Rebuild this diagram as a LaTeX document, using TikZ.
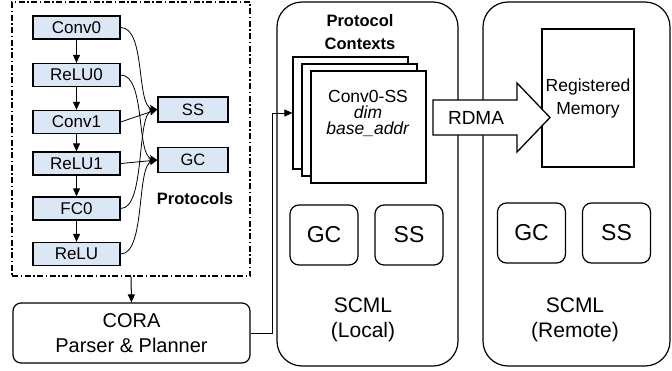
\documentclass[tikz,border=0pt]{standalone}
\usepackage{fontspec}
\setmainfont{Liberation Sans}
\usetikzlibrary{arrows.meta}
\definecolor{nodeblue}{HTML}{DCE7F5}
\begin{document}
\begin{tikzpicture}[x=1pt,y=-1pt,
  layer/.style={draw, line width=1.3pt, fill=nodeblue, minimum width=87pt, minimum height=23pt, inner sep=0pt, font=\fontsize{17}{20}\selectfont},
  proto/.style={draw, line width=1.3pt, fill=nodeblue, minimum width=70pt, minimum height=25pt, inner sep=0pt, font=\fontsize{16.5}{19}\selectfont},
  arr/.style={-{Triangle[length=8pt,width=7pt]}, line width=1pt},
  curv/.style={-{Stealth[length=8pt,width=7pt,inset=2pt]}, line width=0.8pt},
  scmlbox/.style={draw, line width=1.2pt, rounded corners=25pt, minimum width=181pt, minimum height=364pt, inner sep=0pt},
  modbox/.style={draw, line width=1.2pt, rounded corners=9pt, minimum width=68pt, minimum height=60pt, inner sep=0pt, font=\fontsize{23}{26}\selectfont},
  pagebox/.style={draw, line width=1.2pt, fill=white, minimum width=115pt, minimum height=112pt, inner sep=0pt},
  label/.style={align=center, inner sep=0pt},
]
\useasboundingbox (0,0) rectangle (672,370);

% frame of the model
\node[draw, line width=1.2pt, dash pattern=on 6pt off 2.5pt on 1.5pt off 2.5pt,
      minimum width=238pt, minimum height=274pt, inner sep=0pt] (frame) at (131,139) {};

% layers
\node[layer] (conv0) at (76.5,27.5) {Conv0};
\node[layer] (relu0) at (76.5,75) {ReLU0};
\node[layer] (conv1) at (76.5,122) {Conv1};
\node[layer] (relu1) at (76.5,163.5) {ReLU1};
\node[layer] (fc0)   at (76.5,208.5) {FC0};
\node[layer] (relu)  at (76.5,254) {ReLU};

\draw[arr] (conv0) -- (relu0);
\draw[arr] (relu0) -- (conv1);
\draw[arr] (conv1) -- (relu1);
\draw[arr] (relu1) -- (fc0);
\draw[arr] (fc0) -- (relu);

% protocols
\node[proto] (ss) at (193,109.5) {SS};
\node[proto] (gc) at (193,160) {GC};
\node[label, font=\fontsize{16.5}{19}\selectfont\bfseries] (protolbl) at (195,199) {Protocols};

\draw[curv] (conv0.east) .. controls (146,27.5) and (136,106) .. (ss.west);
\draw[curv] (relu0.east) .. controls (146,75) and (136,156) .. (gc.west);
\draw[curv] (conv1.east) -- (ss.west);
\draw[curv] (relu1.east) -- (gc.west);
\draw[curv] (fc0.east) .. controls (146,208.5) and (136,114) .. (ss.west);
\draw[curv] (relu.east) .. controls (146,254) and (136,165) .. (gc.west);

% CORA
\node[draw, line width=1.2pt, rounded corners=8pt, minimum width=237pt, minimum height=60pt,
      inner sep=0pt, align=center, font=\fontsize{20}{25}\selectfont] (cora) at (131.5,333) {CORA\\Parser \& Planner};
\draw[arr] (frame.south) -- (cora.north);

% SCML boxes
\node[scmlbox] (local) at (367.5,184) {};
\node[scmlbox, minimum width=187pt] (remote) at (576.5,184) {};

\node[label, font=\fontsize{16.5}{23}\selectfont\bfseries] (ctxlbl) at (360,32) {Protocol\\Contexts};

% pages
\node[pagebox] (back) at (350.5,113) {};
\node[pagebox] (mid) at (359.5,120) {};
\node[pagebox] (front) at (368.5,127) {};
\node[label, font=\fontsize{17.5}{16}\selectfont] (ctxtext) at (368,113) {Conv0-SS\\\textit{dim}\\\textit{base\_addr}};

\coordinate (bend) at (272,113);
\draw[arr, line width=0.9pt] (cora.east) -| (bend) -- (back.west);

\node[modbox] (lgc) at (324,235) {GC};
\node[modbox] (lss) at (409,235) {SS};
\node[label, font=\fontsize{21}{25}\selectfont] (lname) at (363,320) {SCML\\(Local)};

% remote
\node[draw, line width=1.2pt, minimum width=92pt, minimum height=138pt, inner sep=0pt,
      align=center, font=\fontsize{17.5}{23}\selectfont] (mem) at (588,98) {Registered\\Memory};
\node[modbox] (rgc) at (531.5,233) {GC};
\node[modbox] (rss) at (616.5,233) {SS};
\node[label, font=\fontsize{21}{25}\selectfont] (rname) at (575,320) {SCML\\(Remote)};

% RDMA arrow
\draw[line width=1.3pt, fill=white, line join=miter]
  (433,100) -- (517,100) -- (517,83) -- (550,117.5) -- (517,152) -- (517,135) -- (433,135) -- cycle;
\node[label, font=\fontsize{19}{22}\selectfont] (rdma) at (476,118) {RDMA};
\end{tikzpicture}
\end{document}
